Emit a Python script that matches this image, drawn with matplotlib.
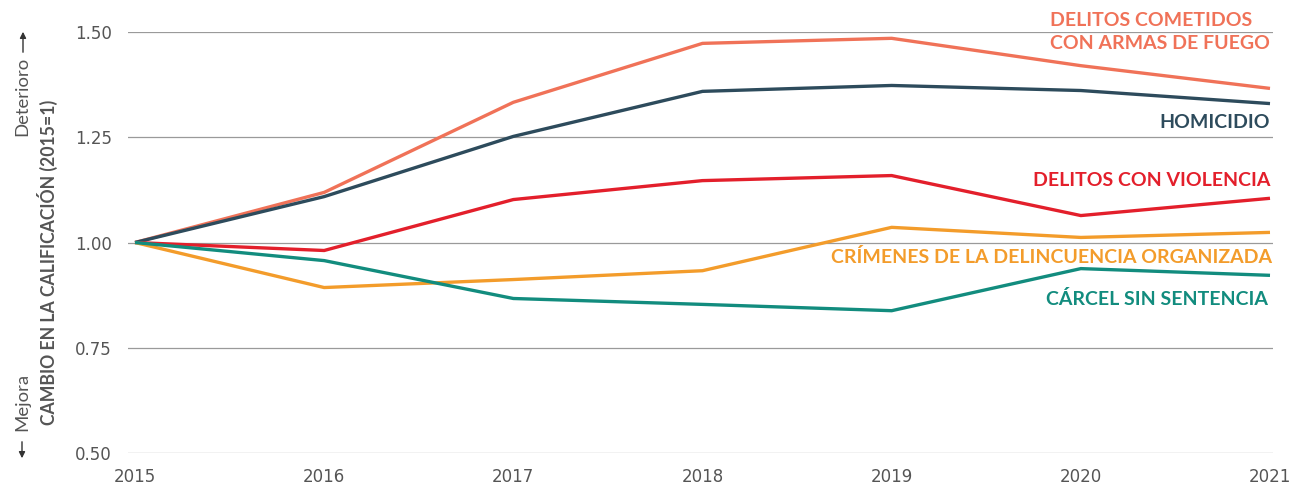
import matplotlib
matplotlib.use("Agg")
import matplotlib.pyplot as plt

years = [2015, 2016, 2017, 2018, 2019, 2020, 2021]
armas = [1.00, 1.119, 1.333, 1.473, 1.485, 1.420, 1.366]
homicidio = [1.00, 1.109, 1.252, 1.359, 1.373, 1.361, 1.330]
violencia = [1.00, 0.981, 1.102, 1.147, 1.159, 1.064, 1.105]
organizada = [1.00, 0.893, 0.912, 0.933, 1.036, 1.012, 1.024]
carcel = [1.00, 0.957, 0.867, 0.853, 0.838, 0.938, 0.922]

series = [
    (armas, "#F07258", "DELITOS COMETIDOS\nCON ARMAS DE FUEGO"),
    (homicidio, "#2D4B5C", "HOMICIDIO"),
    (violencia, "#E31F2B", "DELITOS CON VIOLENCIA"),
    (organizada, "#F39C2B", "CRÍMENES DE LA DELINCUENCIA ORGANIZADA"),
    (carcel, "#128C7E", "CÁRCEL SIN SENTENCIA"),
]
yticks = [0.50, 0.75, 1.00, 1.25, 1.50]

W, H = 1291, 488
fig = plt.figure(figsize=(W / 100, H / 100), dpi=100)
x0, x1 = 128, 1273
y_top, y_bot = 32, 453
ax = fig.add_axes([x0 / W, 1 - y_bot / H, (x1 - x0) / W, (y_bot - y_top) / H])

px_per_year = (1270 - 135) / 6
ax.set_xlim(2015 - (135 - x0) / px_per_year, 2021 + (x1 - 1270) / px_per_year)
ax.set_ylim(0.5, 1.5)

for vals, col, lab in series:
    ax.plot(years, vals, color=col, lw=2.4, solid_capstyle="butt", zorder=3)

ax.set_yticks(yticks)
ax.set_yticklabels([f"{v:.2f}" for v in yticks])
ax.set_xticks(years)
ax.set_xticklabels([str(y) for y in years])
ax.grid(axis="y", color="#9a9a9a", lw=0.9)
ax.grid(axis="x", visible=False)
for s in ax.spines.values():
    s.set_visible(False)
ax.tick_params(axis="both", length=0, labelsize=12, labelcolor="#555555")
ax.tick_params(axis="y", pad=11.5)
ax.tick_params(axis="x", pad=11)
for t in ax.get_xticklabels() + ax.get_yticklabels():
    t.set_fontfamily("DejaVu Sans")

def fx(px):
    return px / W

def fy(py):
    return 1 - py / H

lab_font = dict(fontfamily="Lato", fontweight="bold", fontsize=14)
# series labels (figure pixel positions)
fig.text(fx(1270), fy(32), series[0][2], color=series[0][1], ha="right", va="center",
         multialignment="left", linespacing=1.4, **lab_font)
fig.text(fx(1270), fy(122), series[1][2], color=series[1][1], ha="right", va="center", **lab_font)
fig.text(fx(1270), fy(181), series[2][2], color=series[2][1], ha="right", va="center", **lab_font)
fig.text(fx(1272), fy(257), series[3][2], color=series[3][1], ha="right", va="center", **lab_font)
fig.text(fx(1268), fy(299), series[4][2], color=series[4][1], ha="right", va="center", **lab_font)

# axis label
fig.text(fx(47), fy(262), "CAMBIO EN LA CALIFICACIÓN (2015=1)", rotation=90, ha="center",
         va="center", color="#555555", fontfamily="Lato", fontweight="bold", fontsize=12.7)
fig.text(fx(22), fy(96), "Deterioro", rotation=90, ha="center", va="center",
         color="#555555", fontfamily="Lato", fontsize=13.3)
fig.text(fx(22), fy(402), "Mejora", rotation=90, ha="center", va="center",
         color="#555555", fontfamily="Lato", fontsize=13.3)
fig.add_artist(matplotlib.patches.FancyArrowPatch((fx(23), fy(55)), (fx(23), fy(29)),
               transform=fig.transFigure, arrowstyle="-|>", mutation_scale=9,
               color="#333333", lw=1))
fig.add_artist(matplotlib.patches.FancyArrowPatch((fx(22), fy(439)), (fx(22), fy(461)),
               transform=fig.transFigure, arrowstyle="-|>", mutation_scale=9,
               color="#333333", lw=1))

fig.savefig("out.png", dpi=100)
